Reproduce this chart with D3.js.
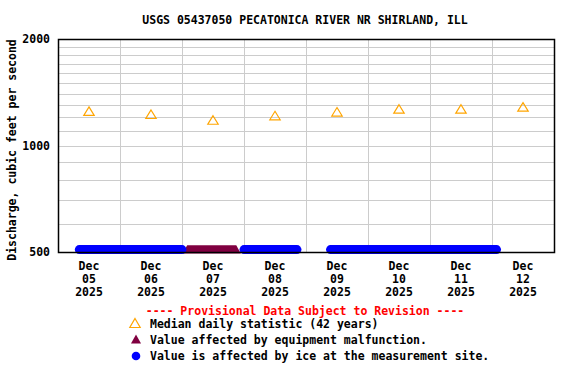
<!DOCTYPE html>
<html><head><meta charset="utf-8">
<script src="https://cdn.jsdelivr.net/npm/d3@7"></script>
<style>
html,body{margin:0;padding:0;background:#fff;}
text{font-family:"DejaVu Sans Mono",monospace;font-weight:bold;}
</style>
</head><body>
<svg id="chart" width="576" height="384"></svg>
<script>
// ---- data ----
const title = "USGS 05437050 PECATONICA RIVER NR SHIRLAND, ILL";
const yLabel = "Discharge, cubic feet per second";
const dayLabels = ["2025-12-05","2025-12-06","2025-12-07","2025-12-08","2025-12-09","2025-12-10","2025-12-11","2025-12-12"];
const medianValues = [1250,1225,1180,1215,1245,1268,1268,1285];
const yTicks = [500,1000,2000];
const yGrid = [600,700,800,900,1000,1100,1200,1300,1400,1500,1600,1700,1800,1900];
const iceStart = ["2025-12-05T08:15","2025-12-08T00:00","2025-12-09T09:30"];
const iceEnd   = ["2025-12-07T00:00","2025-12-08T20:30","2025-12-12T01:45"];
const iceValue = [508,508,508];
const malfStart = ["2025-12-07T02:00"];
const malfEnd   = ["2025-12-07T21:00"];
const malfValue = [508];
const legendItems = ["Median daily statistic (42 years)","Value affected by equipment malfunction.","Value is affected by ice at the measurement site."];
const provisional = "---- Provisional Data Subject to Revision ----";

// ---- layout ----
const svg = d3.select("#chart");
const L=58, R=554, T=39, B=252;
const parseDay = d3.utcParse("%Y-%m-%d");
const parseT = d3.utcParse("%Y-%m-%dT%H:%M");
const d0 = parseDay(dayLabels[0]);
const dEnd = d3.utcDay.offset(parseDay(dayLabels[dayLabels.length-1]),1);
const x = d3.scaleUtc().domain([d0,dEnd]).range([L,R]);
const y = d3.scaleLog().domain([500,2000]).range([B,T]);

// grid
const g = svg.append("g");
g.selectAll("line.hg").data(yGrid).join("line")
  .attr("x1",L).attr("x2",R).attr("y1",d=>Math.round(y(d))+0.5).attr("y2",d=>Math.round(y(d))+0.5)
  .attr("stroke","#cccccc").attr("stroke-width",1);
const mids = d3.utcDay.range(d3.utcDay.offset(d0,1), dEnd);
g.selectAll("line.vg").data(mids).join("line")
  .attr("y1",T).attr("y2",B).attr("x1",d=>Math.round(x(d))+0.5).attr("x2",d=>Math.round(x(d))+0.5)
  .attr("stroke","#cccccc").attr("stroke-width",1);

// median triangles
const noon = d => d3.utcHour.offset(parseDay(d),12);
svg.append("g").selectAll("path").data(dayLabels.map((d,i)=>({t:noon(d),v:medianValues[i]}))).join("path")
  .attr("d",d=>{const cx=x(d.t), cy=y(d.v); return `M${cx},${cy-4.3}L${cx+5.2},${cy+4.2}L${cx-5.2},${cy+4.2}Z`;})
  .attr("fill","none").attr("stroke","#FFA500").attr("stroke-width",1.2);

// malfunction band (overlapping triangle markers)
malfStart.forEach((s,i)=>{
  const x0=x(parseT(s)), x1=x(parseT(malfEnd[i])), cy=y(malfValue[i]);
  const pts=[[x0-4.6,cy+4],[x0,cy-4.3],[x1,cy-4.3],[x1+4.6,cy+4]];
  svg.append("path").attr("d",d3.line()(pts)+"Z").attr("fill","#800040");
});

// ice-affected runs (overlapping dot markers)
iceStart.forEach((s,i)=>{
  const pts=[[x(parseT(s)),y(iceValue[i])],[x(parseT(iceEnd[i])),y(iceValue[i])]];
  svg.append("path").attr("d",d3.line()(pts)).attr("stroke","#0000ff").attr("stroke-width",9)
    .attr("stroke-linecap","round").attr("fill","none");
});

// frame
svg.append("rect").attr("x",L+0.5).attr("y",T+0.5).attr("width",R-L).attr("height",B-T)
  .attr("fill","none").attr("stroke","#000").attr("stroke-width",1.5);

// y tick labels
svg.append("g").selectAll("text").data(yTicks).join("text")
  .attr("x",50).attr("y",d=>y(d)+4).attr("text-anchor","end").attr("font-size","11.5px").text(d=>d);

// x tick labels
const xl = svg.append("g");
dayLabels.forEach(d=>{
  const dt=parseDay(d), cx=x(noon(d));
  const t=xl.append("text").attr("text-anchor","middle").attr("font-size","11.5px");
  [["Dec",270],[d3.utcFormat("%d")(dt),283],[d3.utcFormat("%Y")(dt),296]].forEach(([s,yy])=>{
    t.append("tspan").attr("x",cx).attr("y",yy).text(s);
  });
});

// title
svg.append("text").attr("x",305).attr("y",24).attr("text-anchor","middle").attr("font-size","11.5px").text(title);

// y label
svg.append("text").attr("transform","translate(16,150) rotate(-90)").attr("text-anchor","middle")
  .attr("font-size","11.5px").text(yLabel);

// provisional
svg.append("text").attr("x",305).attr("y",315).attr("text-anchor","middle").attr("font-size","11.5px")
  .attr("fill","#ff0000").text(provisional);

// legend
const ly=[328,344,360];
const lg=svg.append("g");
lg.append("path").attr("d",`M135,${318.5}L140.2,${327.5}L129.8,${327.5}Z`).attr("fill","none").attr("stroke","#FFA500").attr("stroke-width",1.2);
lg.append("path").attr("d",`M136,${334.5}L141,${343.5}L131,${343.5}Z`).attr("fill","#800040");
lg.append("circle").attr("cx",136).attr("cy",356).attr("r",4.3).attr("fill","#0000ff");
lg.selectAll("text").data(legendItems).join("text").attr("x",150).attr("y",(d,i)=>ly[i])
  .attr("font-size","11.5px").text(d=>d);
</script>
</body></html>
